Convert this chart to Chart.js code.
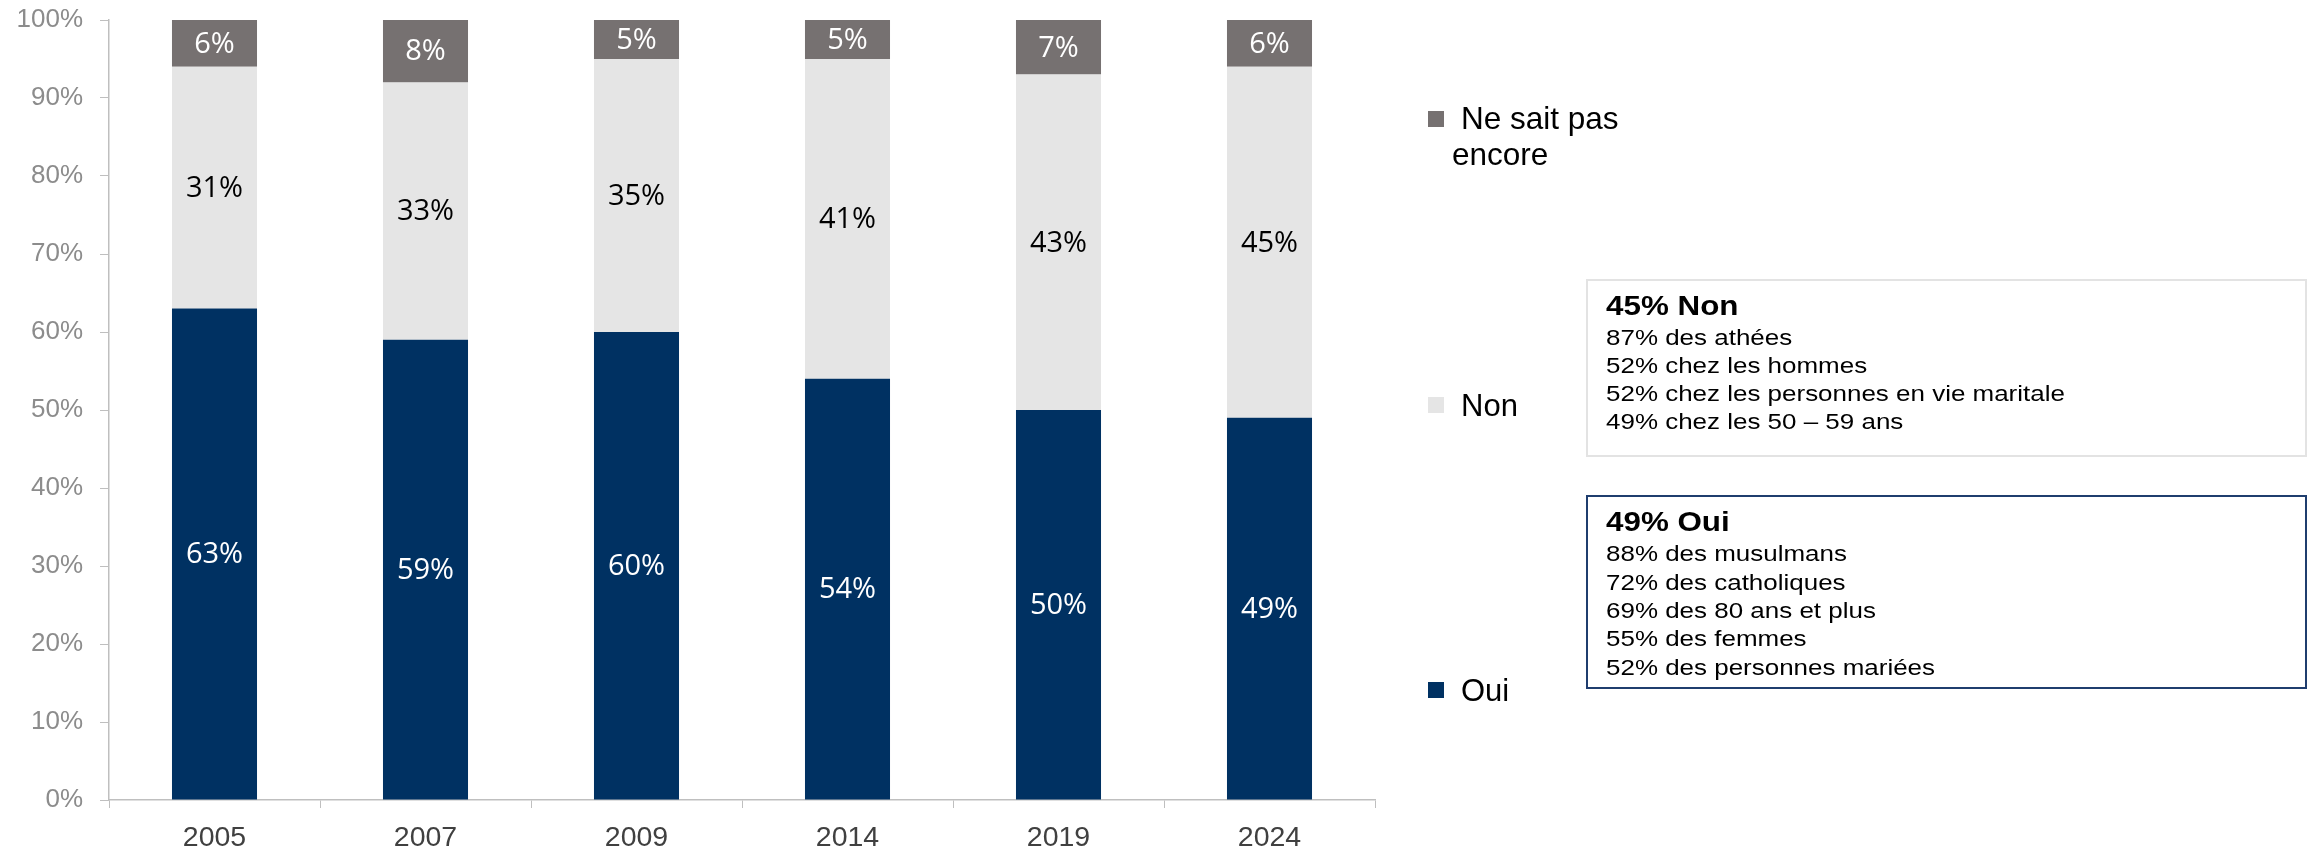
<!DOCTYPE html>
<html lang="fr">
<head>
<meta charset="utf-8">
<script src="https://cdn.jsdelivr.net/npm/chart.js@4.4.0/dist/chart.umd.min.js"></script>
<style>
  html, body { margin: 0; padding: 0; background: #fff; }
  #wrap { position: relative; width: 2318px; height: 848px; }
  #wrap canvas { position: absolute; left: 0; top: 0; }
  .t { position: absolute; white-space: nowrap; font-family: "Liberation Sans", Arial, sans-serif; transform-origin: 0 0; }
  .sq { position: absolute; width: 16px; height: 16px; }
  .box { position: absolute; box-sizing: border-box; }
</style>
</head>
<body>
<div id="wrap">
  <canvas id="graficaCredo" width="2318" height="848"></canvas>
</div>
<script>
// données
const annees = ['2005', '2007', '2009', '2014', '2019', '2024'];
const oui = [63, 59, 60, 54, 50, 49];
const non = [31, 33, 35, 41, 43, 45];
const neSaitPas = [6, 8, 5, 5, 7, 6];
const ticksY = [0, 10, 20, 30, 40, 50, 60, 70, 80, 90, 100];

const legende = ['Ne sait pas encore', 'Non', 'Oui'];
const encadreNon = ['45% Non', '87% des athées', '52% chez les hommes',
  '52% chez les personnes en vie maritale', '49% chez les 50 – 59 ans'];
const encadreOui = ['49% Oui', '88% des musulmans', '72% des catholiques',
  '69% des 80 ans et plus', '55% des femmes', '52% des personnes mariées'];

const couleurs = { oui: '#003162', non: '#e5e5e5', nsp: '#767171' };

// étiquettes dans les barres
const etiquettes = {
  id: 'etiquettes',
  afterDatasetsDraw(chart) {
    const ctx = chart.ctx;
    ctx.save();
    ctx.font = '29px "Open Sans", "Noto Sans", sans-serif';
    ctx.textAlign = 'center';
    ctx.textBaseline = 'middle';
    chart.data.datasets.forEach((ds, i) => {
      const meta = chart.getDatasetMeta(i);
      meta.data.forEach((bar, j) => {
        ctx.fillStyle = ds.labelColor;
        ctx.fillText(ds.data[j] + '%', bar.x, (bar.y + bar.base) / 2 + 1);
      });
    });
    ctx.restore();
  }
};

const ctx = document.getElementById('graficaCredo').getContext('2d');
const grafica = new Chart(ctx, {
  type: 'bar',
  data: {
    labels: annees,
    datasets: [
      { label: 'Oui', data: oui, backgroundColor: couleurs.oui, labelColor: '#ffffff' },
      { label: 'Non', data: non, backgroundColor: couleurs.non, labelColor: '#000000' },
      { label: 'Ne sait pas encore', data: neSaitPas, backgroundColor: couleurs.nsp, labelColor: '#ffffff' }
    ]
  },
  options: {
    responsive: false,
    animation: false,
    datasets: { bar: { categoryPercentage: 1, barPercentage: 0.403, borderWidth: 0 } },
    layout: { padding: { left: 0, right: 943, top: 20, bottom: 0 } },
    scales: {
      x: {
        stacked: true,
        grid: { display: true, drawOnChartArea: false, drawTicks: true, tickLength: 8, color: '#bfbfbf', offset: true },
        border: { color: '#bfbfbf', width: 1.5 },
        ticks: { color: '#404040', font: { family: '"Liberation Sans", Arial', size: 28.5 }, padding: 13 },
        afterFit: s => { s.height = 48; s.paddingLeft = 0; s.paddingRight = 0; }
      },
      y: {
        stacked: true,
        min: 0,
        max: 100,
        afterBuildTicks: s => { s.ticks = ticksY.map(v => ({ value: v })); },
        grid: { display: true, drawOnChartArea: false, drawTicks: true, tickLength: 9, color: '#bfbfbf' },
        border: { color: '#bfbfbf', width: 1.5 },
        ticks: {
          color: '#8c8c8c',
          font: { family: '"Liberation Sans", Arial', size: 26 },
          padding: 17,
          callback: v => v + '%'
        },
        afterFit: s => { s.width = 109; s.paddingTop = 0; s.paddingBottom = 0; }
      }
    },
    plugins: {
      legend: { display: false },
      tooltip: { enabled: false }
    }
  },
  plugins: [etiquettes]
});

// légende et encadrés (texte HTML)
const wrap = document.getElementById('wrap');
function texte(str, x, baseline, size, weight, color, sx) {
  const d = document.createElement('div');
  d.className = 't';
  d.textContent = str;
  d.style.left = x + 'px';
  d.style.top = (baseline - 0.8465 * size) + 'px';
  d.style.fontSize = size + 'px';
  d.style.lineHeight = size + 'px';
  d.style.fontWeight = weight;
  d.style.color = color;
  if (sx) d.style.transform = 'scaleX(' + sx + ')';
  wrap.appendChild(d);
}
function carre(x, y, color) {
  const d = document.createElement('div');
  d.className = 'sq';
  d.style.left = x + 'px';
  d.style.top = y + 'px';
  d.style.background = color;
  wrap.appendChild(d);
}
function encadre(x, y, w, h, border) {
  const d = document.createElement('div');
  d.className = 'box';
  Object.assign(d.style, { left: x + 'px', top: y + 'px', width: w + 'px', height: h + 'px', border: border });
  wrap.appendChild(d);
}

carre(1428, 111, couleurs.nsp);
texte('Ne sait pas', 1461, 130, 31.5, 'normal', '#000');
texte('encore', 1452, 166, 31.5, 'normal', '#000');
carre(1428, 397, couleurs.non);
texte(legende[1], 1461, 416, 31, 'normal', '#000');
carre(1428, 682, couleurs.oui);
texte(legende[2], 1461, 701, 31, 'normal', '#000');

encadre(1586, 279, 721, 178, '2px solid #e3e3e3');
encadreNon.forEach((l, i) => {
  if (i === 0) texte(l, 1606, 316, 28, 'bold', '#000', 1.12);
  else texte(l, 1606, 346 + (i - 1) * 27.8, 22, 'normal', '#000', 1.18);
});

encadre(1586, 495, 721, 194, '2px solid #1f3d6e');
encadreOui.forEach((l, i) => {
  if (i === 0) texte(l, 1606, 532, 28, 'bold', '#000', 1.12);
  else texte(l, 1606, 562 + (i - 1) * 28.3, 22, 'normal', '#000', 1.18);
});
</script>
</body>
</html>
